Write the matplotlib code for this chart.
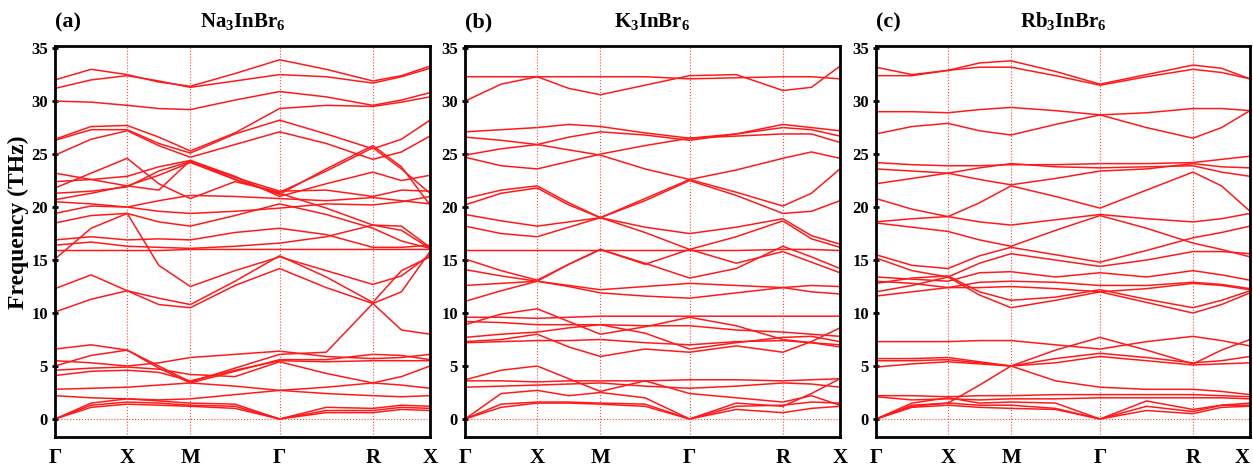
import matplotlib
matplotlib.use("Agg")
import matplotlib.pyplot as plt

# high-symmetry path (relative distances)
kpath_labels = ["Γ", "X", "M", "Γ", "R", "X"]
kpath_pos = [0, 72, 135, 224, 317, 374]
# sample positions: each high-symmetry point plus the segment midpoints
k_samples = [0, 36, 72, 103.5, 135, 179.5, 224, 270.5, 317, 345.5, 374]

titles = ["Na$_3$InBr$_6$", "K$_3$InBr$_6$", "Rb$_3$InBr$_6$"]
panel_tags = ["(a)", "(b)", "(c)"]

bands_Na = [
    [32.0, 33.0, 32.5, 31.8, 31.4, 32.6, 33.9, 33.0, 31.9, 32.4, 33.3],
    [31.2, 32.0, 32.4, 31.9, 31.3, 31.9, 32.5, 32.3, 31.7, 32.3, 33.1],
    [30.0, 29.9, 29.6, 29.3, 29.2, 30.1, 30.9, 30.4, 29.6, 30.1, 30.8],
    [26.4, 27.6, 27.7, 26.6, 25.3, 27.0, 29.3, 29.6, 29.5, 29.9, 30.4],
    [26.3, 27.3, 27.3, 26.0, 25.1, 26.9, 28.2, 26.9, 25.5, 26.4, 28.2],
    [24.9, 26.4, 27.2, 25.8, 24.7, 25.9, 27.1, 26.0, 24.5, 25.2, 26.7],
    [23.2, 22.6, 22.0, 21.6, 24.4, 22.6, 21.2, 23.6, 25.8, 23.8, 20.2],
    [21.8, 23.2, 24.6, 22.2, 20.8, 22.4, 21.4, 23.4, 25.6, 23.6, 21.3],
    [22.4, 22.6, 22.9, 23.8, 24.4, 22.9, 21.0, 22.2, 23.3, 22.5, 23.0],
    [21.3, 21.5, 21.9, 23.4, 24.3, 22.8, 21.5, 21.6, 21.0, 21.6, 21.5],
    [20.7, 21.3, 22.0, 23.0, 24.2, 22.6, 21.3, 19.9, 18.3, 18.2, 16.2],
    [20.5, 20.3, 20.0, 20.6, 21.1, 21.0, 20.8, 20.6, 20.9, 20.6, 20.3],
    [19.4, 20.1, 20.0, 19.6, 19.4, 19.6, 19.9, 20.3, 20.2, 20.5, 21.0],
    [18.5, 19.2, 19.4, 18.6, 18.2, 19.2, 20.3, 19.3, 18.0, 16.8, 16.1],
    [16.9, 17.2, 16.9, 17.0, 16.9, 17.6, 18.0, 17.4, 16.2, 16.2, 16.4],
    [16.4, 16.7, 16.3, 16.2, 16.1, 16.3, 16.6, 17.2, 18.3, 17.8, 16.1],
    [15.9, 15.9, 15.9, 15.9, 16.0, 16.0, 16.0, 16.0, 16.0, 16.0, 16.0],
    [15.1, 18.0, 19.4, 14.5, 12.5, 14.0, 15.3, 14.0, 12.7, 13.5, 15.5],
    [12.3, 13.6, 12.1, 10.8, 10.5, 12.6, 14.2, 12.4, 10.9, 12.0, 15.8],
    [10.1, 11.3, 12.1, 11.4, 10.8, 13.0, 15.4, 13.4, 11.0, 14.0, 15.3],
    [6.6, 7.0, 6.5, 5.0, 3.5, 4.8, 6.1, 6.3, 10.9, 8.4, 8.0],
    [5.5, 5.3, 5.0, 5.3, 5.8, 6.1, 6.4, 5.9, 5.7, 5.8, 6.1],
    [5.0, 6.0, 6.5, 4.8, 3.4, 4.5, 5.6, 5.6, 6.1, 6.0, 5.6],
    [4.6, 4.8, 4.9, 4.7, 4.2, 4.0, 5.4, 4.3, 3.4, 4.0, 5.0],
    [4.1, 4.5, 4.6, 4.4, 3.6, 4.6, 5.5, 5.4, 5.5, 5.5, 5.5],
    [2.8, 2.9, 3.0, 3.2, 3.4, 3.1, 2.7, 3.0, 3.4, 3.2, 2.9],
    [2.2, 2.0, 1.9, 1.8, 1.9, 2.3, 2.7, 2.4, 2.2, 2.1, 2.2],
    [0.0, 1.5, 1.9, 1.7, 1.5, 1.4, 0.0, 1.1, 1.0, 1.3, 1.2],
    [0.0, 1.3, 1.6, 1.5, 1.3, 1.2, 0.0, 0.8, 0.8, 1.1, 1.0],
    [0.0, 1.1, 1.4, 1.3, 1.2, 1.0, 0.0, 0.6, 0.6, 0.9, 0.8],
]

bands_K = [
    [32.3, 32.3, 32.3, 32.3, 32.3, 32.3, 32.1, 32.2, 32.3, 32.3, 32.1],
    [30.0, 31.6, 32.3, 31.2, 30.6, 31.5, 32.4, 32.5, 31.0, 31.3, 33.3],
    [27.1, 27.3, 27.5, 27.8, 27.6, 27.0, 26.5, 26.9, 27.5, 27.3, 26.7],
    [26.6, 26.3, 25.9, 26.6, 27.1, 26.8, 26.3, 26.9, 27.8, 27.5, 27.2],
    [24.9, 25.5, 25.9, 25.4, 24.9, 23.6, 22.6, 23.5, 24.6, 25.2, 24.6],
    [24.7, 23.9, 23.6, 24.3, 25.0, 25.8, 26.5, 26.7, 26.9, 26.9, 26.1],
    [20.8, 21.6, 22.0, 20.4, 19.0, 20.8, 22.6, 21.4, 20.1, 21.3, 23.6],
    [20.2, 21.3, 21.8, 20.2, 19.0, 20.6, 22.5, 21.1, 19.4, 19.6, 20.6],
    [19.3, 18.7, 18.2, 18.6, 19.0, 18.1, 17.5, 18.1, 18.9, 17.3, 16.5],
    [18.2, 17.5, 17.2, 18.1, 19.0, 17.6, 16.0, 17.2, 18.7, 17.0, 16.2],
    [15.9, 15.9, 15.9, 15.9, 15.9, 15.9, 15.9, 15.9, 16.0, 16.0, 15.9],
    [15.1, 14.0, 13.1, 14.6, 16.0, 14.6, 16.0, 14.7, 15.8, 14.8, 13.8],
    [11.1, 12.1, 13.0, 14.6, 16.0, 14.7, 13.3, 14.2, 16.3, 15.3, 14.2],
    [14.1, 13.5, 13.0, 12.6, 12.2, 12.5, 12.8, 12.6, 12.4, 12.6, 12.5],
    [12.6, 12.8, 13.0, 12.5, 11.9, 11.6, 11.4, 11.9, 12.4, 12.0, 11.8],
    [9.6, 9.6, 9.5, 9.6, 9.7, 9.7, 9.7, 9.7, 9.7, 9.7, 9.7],
    [8.9, 9.9, 10.4, 9.2, 8.0, 8.7, 9.6, 8.8, 7.5, 7.2, 6.8],
    [9.2, 9.1, 8.9, 8.9, 8.9, 8.8, 8.8, 8.4, 8.2, 8.0, 7.8],
    [7.7, 8.0, 8.2, 8.6, 8.9, 8.1, 6.6, 7.2, 7.7, 7.8, 7.3],
    [7.3, 7.5, 8.0, 6.8, 5.9, 6.6, 6.3, 6.9, 6.3, 7.3, 8.6],
    [7.2, 7.3, 7.4, 7.4, 7.5, 7.2, 7.0, 7.3, 7.4, 7.2, 7.0],
    [3.7, 4.6, 5.0, 3.8, 2.6, 3.6, 2.4, 2.0, 1.6, 2.2, 1.3],
    [3.6, 3.6, 3.5, 3.6, 3.6, 3.6, 3.7, 3.7, 3.6, 3.7, 3.8],
    [3.0, 3.1, 3.2, 3.3, 3.4, 3.1, 2.9, 3.1, 3.4, 3.3, 3.0],
    [0.0, 2.4, 2.7, 2.2, 2.5, 2.0, 0.0, 1.5, 1.2, 2.4, 3.8],
    [0.0, 1.4, 1.6, 1.6, 1.5, 1.4, 0.0, 1.2, 1.3, 1.6, 1.5],
    [0.0, 1.1, 1.5, 1.5, 1.4, 1.2, 0.0, 0.9, 0.6, 1.0, 1.2],
]

bands_Rb = [
    [33.2, 32.5, 32.9, 33.6, 33.8, 32.8, 31.6, 32.5, 33.4, 33.1, 32.1],
    [32.4, 32.4, 32.9, 33.2, 33.2, 32.4, 31.5, 32.3, 33.0, 32.7, 32.1],
    [29.0, 29.0, 28.9, 29.2, 29.4, 29.1, 28.7, 28.9, 29.3, 29.3, 29.1],
    [26.9, 27.6, 27.9, 27.2, 26.8, 27.8, 28.7, 27.5, 26.5, 27.5, 29.1],
    [24.2, 24.0, 23.9, 23.9, 24.0, 24.0, 24.1, 24.1, 24.2, 24.5, 24.8],
    [23.6, 23.4, 23.2, 22.6, 22.1, 22.7, 23.4, 23.6, 24.1, 23.8, 23.7],
    [22.2, 22.7, 23.2, 23.7, 24.1, 23.8, 23.7, 23.8, 23.9, 23.3, 22.9],
    [20.8, 19.8, 19.1, 20.4, 22.0, 21.0, 19.9, 21.6, 23.3, 22.0, 19.6],
    [18.6, 18.9, 19.1, 18.6, 18.3, 18.8, 19.3, 18.9, 18.6, 18.9, 19.4],
    [18.5, 18.1, 17.7, 16.9, 16.3, 17.8, 19.2, 18.0, 16.6, 16.0, 15.3],
    [15.5, 14.5, 14.2, 15.4, 16.2, 15.5, 14.8, 15.9, 17.1, 17.6, 18.2],
    [15.2, 14.0, 13.4, 14.7, 15.6, 15.0, 14.4, 15.0, 15.8, 15.8, 15.6],
    [13.4, 13.2, 13.0, 13.8, 13.9, 13.4, 13.8, 13.4, 14.0, 13.6, 13.1],
    [13.0, 12.8, 12.4, 12.9, 13.0, 12.9, 12.6, 12.6, 12.9, 12.7, 12.3],
    [12.8, 13.3, 13.5, 12.0, 11.2, 11.5, 12.2, 11.3, 10.5, 11.2, 12.1],
    [12.0, 12.6, 13.4, 11.7, 10.5, 11.2, 12.0, 11.0, 10.0, 10.8, 11.9],
    [11.6, 12.0, 12.4, 12.4, 12.5, 12.3, 12.0, 12.3, 12.8, 12.6, 12.2],
    [7.3, 7.3, 7.3, 7.4, 7.4, 7.0, 6.6, 7.3, 7.8, 7.4, 6.9],
    [5.7, 5.7, 5.8, 5.4, 5.0, 6.5, 7.7, 6.5, 5.2, 6.5, 7.5],
    [5.5, 5.5, 5.6, 5.3, 5.0, 5.7, 6.2, 5.8, 5.3, 5.5, 5.9],
    [4.9, 5.2, 5.4, 5.2, 5.0, 5.3, 5.9, 5.5, 5.1, 5.2, 5.3],
    [0.0, 1.2, 1.5, 3.2, 5.0, 3.6, 3.0, 2.8, 2.8, 2.6, 2.3],
    [2.2, 2.2, 2.1, 2.2, 2.2, 2.3, 2.3, 2.3, 2.3, 2.2, 2.1],
    [2.1, 1.8, 1.9, 1.8, 1.9, 1.9, 2.0, 2.0, 2.0, 2.0, 1.9],
    [0.0, 1.5, 2.0, 1.5, 1.6, 1.5, 0.0, 1.7, 0.9, 1.3, 1.5],
    [0.0, 1.3, 1.5, 1.3, 1.3, 1.0, 0.0, 1.2, 0.7, 1.3, 1.3],
    [0.0, 1.1, 1.3, 1.1, 1.0, 0.9, 0.0, 0.8, 0.5, 1.1, 1.2],
]

yticks = [0, 5, 10, 15, 20, 25, 30, 35]

plt.rcParams["font.family"] = ["Liberation Serif", "DejaVu Serif"]
plt.rcParams["mathtext.fontset"] = "custom"
plt.rcParams["mathtext.rm"] = "Liberation Serif:bold"
plt.rcParams["mathtext.it"] = "Liberation Serif:bold"
plt.rcParams["mathtext.bf"] = "Liberation Serif:bold"
plt.rcParams["mathtext.default"] = "rm"

W, H = 1253, 466
fig = plt.figure(figsize=(W / 100, H / 100), dpi=100)
lefts = [55, 465, 876]
widths = [375, 375, 374]
top_px, bot_px = 46, 437

all_bands = [bands_Na, bands_K, bands_Rb]
for i in range(3):
    ax = fig.add_axes([lefts[i] / W, 1 - bot_px / H, widths[i] / W, (bot_px - top_px) / H])
    for band in all_bands[i]:
        ax.plot(k_samples, band, color="#ff1a1a", lw=1.1, solid_joinstyle="round")
    for xp in kpath_pos[1:-1]:
        ax.axvline(xp, color="#ff4040", lw=0.8, ls=":")
    ax.axhline(0, color="#ff4040", lw=0.8, ls=":")
    ax.set_xlim(kpath_pos[0], kpath_pos[-1])
    ax.set_ylim(-1.7, 35.2)
    ax.set_xticks(kpath_pos)
    ax.set_xticklabels(kpath_labels, fontsize=15, fontweight="bold")
    if i == 2:
        ax.get_xticklabels()[-1].set_horizontalalignment("right")
    ax.set_yticks(yticks)
    ax.set_yticklabels([str(t) for t in yticks], fontsize=12, fontweight="bold")
    ax.tick_params(axis="x", length=0, pad=8)
    ax.tick_params(axis="y", direction="inout", length=4, width=2, pad=3)
    for s in ax.spines.values():
        s.set_linewidth(2)
    ax.text(0.0, 1.035, panel_tags[i], transform=ax.transAxes, fontsize=16,
            fontweight="bold", ha="left", va="bottom")
    ax.text(0.5, 1.035, titles[i], transform=ax.transAxes, fontsize=15,
            fontweight="bold", ha="center", va="bottom")
    if i == 0:
        ax.set_ylabel("Frequency (THz)", fontsize=17, fontweight="bold")
        ax.yaxis.set_label_coords(-0.068, 0.55)

fig.savefig("out.png", dpi=100)
